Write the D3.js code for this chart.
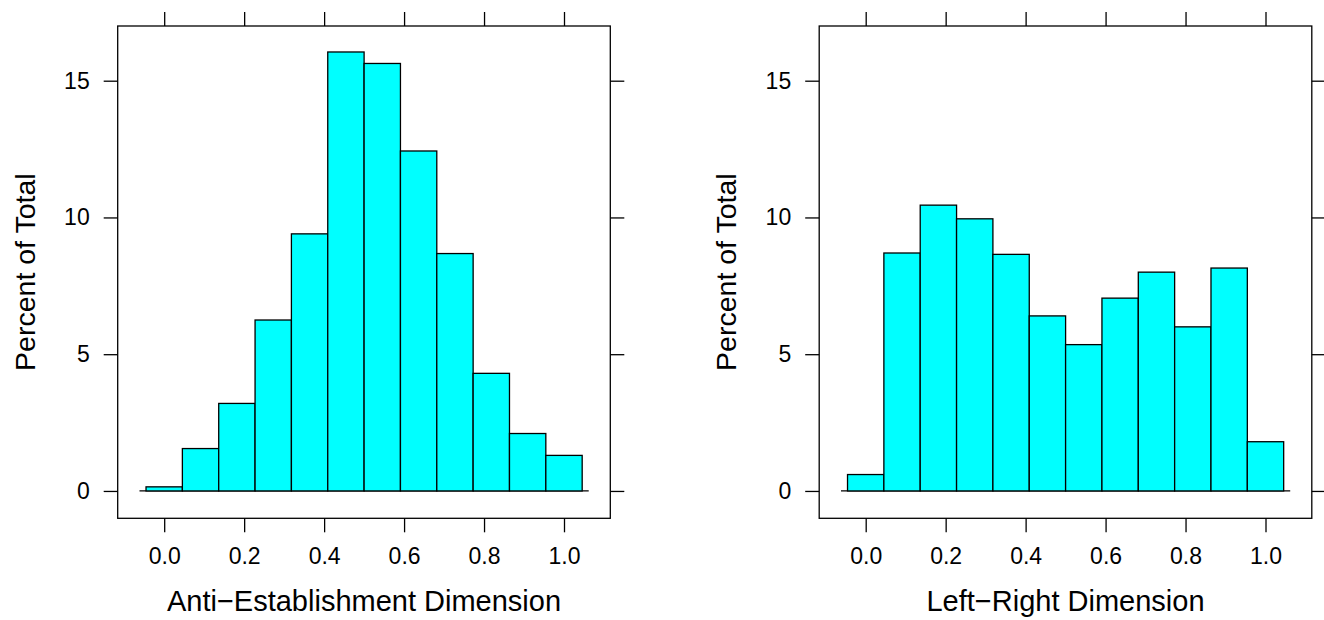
<!DOCTYPE html>
<html>
<head>
<meta charset="utf-8">
<script src="https://cdn.jsdelivr.net/npm/d3@7"></script>
<style>
  body { margin: 0; background: #fff; }
  svg { display: block; font-family: "Liberation Sans", Arial, sans-serif; }
</style>
</head>
<body>
<svg width="1324" height="620"></svg>
<script>
// bins are centred on 0, 1/11, 2/11, ... 1
var binCount = 12;
var binWidth = 1 / 11;
var antiEstablishment = [0.15, 1.55, 3.2, 6.25, 9.4, 16.05, 15.63, 12.43, 8.68, 4.3, 2.1, 1.3];
var leftRight = [0.6, 8.7, 10.45, 9.95, 8.65, 6.4, 5.35, 7.05, 8.0, 6.0, 8.15, 1.8];
var xTicks = [0, 0.2, 0.4, 0.6, 0.8, 1.0];
var yTicks = [0, 5, 10, 15];
var xTitles = ["Anti\u2212Establishment Dimension", "Left\u2212Right Dimension"];
var yTitle = "Percent of Total";

var svg = d3.select("svg");

// panel frame geometry
var panelW = 492.6, panelH = 492.3;
var panelX = [117.7, 819.2], panelY = 26;
var tickLen = 14;

var xScale = d3.scaleLinear().domain([-0.1163, 1.1158]).range([0, panelW]);
var yScale = d3.scaleLinear().domain([-1, 17]).range([panelH, 0]);

var panels = [antiEstablishment, leftRight];

panels.forEach(function(values, p) {
  var g = svg.append("g")
      .attr("transform", "translate(" + panelX[p] + "," + panelY + ")");

  var bins = values.map(function(v, i) {
    return { x0: -binWidth / 2 + i * binWidth, x1: -binWidth / 2 + (i + 1) * binWidth, v: v };
  });

  // reference line at 0
  g.append("line")
      .attr("x1", xScale(bins[0].x0 - 0.18 * binWidth))
      .attr("x2", xScale(bins[binCount - 1].x1 + 0.18 * binWidth))
      .attr("y1", yScale(0)).attr("y2", yScale(0))
      .attr("stroke", "#000").attr("stroke-width", 1.3);

  g.selectAll("rect.bar")
    .data(bins)
    .enter().append("rect")
      .attr("class", "bar")
      .attr("x", function(d) { return xScale(d.x0); })
      .attr("width", function(d) { return xScale(d.x1) - xScale(d.x0); })
      .attr("y", function(d) { return yScale(d.v); })
      .attr("height", function(d) { return yScale(0) - yScale(d.v); })
      .attr("fill", "#00ffff")
      .attr("stroke", "#000")
      .attr("stroke-width", 1.3);

  // axes: labels on left / bottom, bare ticks on top / right
  var bottom = g.append("g")
      .attr("transform", "translate(0," + panelH + ")")
      .call(d3.axisBottom(xScale).tickValues(xTicks).tickSize(tickLen).tickPadding(15)
            .tickFormat(d3.format(".1f")));
  var top = g.append("g")
      .call(d3.axisTop(xScale).tickValues(xTicks).tickSize(tickLen).tickFormat(""));
  var left = g.append("g")
      .call(d3.axisLeft(yScale).tickValues(yTicks).tickSize(tickLen).tickPadding(14));
  var right = g.append("g")
      .attr("transform", "translate(" + panelW + ",0)")
      .call(d3.axisRight(yScale).tickValues(yTicks).tickSize(tickLen).tickFormat(""));

  [bottom, top, left, right].forEach(function(a) {
    a.select(".domain").remove();
    a.selectAll("line").attr("stroke", "#000").attr("stroke-width", 1.3);
    a.selectAll("text").attr("fill", "#000").style("font-size", "23px")
      .style("font-family", "'Liberation Sans', Arial, sans-serif");
  });

  // frame
  g.append("rect")
      .attr("width", panelW).attr("height", panelH)
      .attr("fill", "none").attr("stroke", "#000").attr("stroke-width", 1.3);

  // titles
  g.append("text")
      .attr("x", panelW / 2).attr("y", panelH + 93)
      .attr("text-anchor", "middle")
      .style("font-size", "29px")
      .text(xTitles[p]);

  g.append("text")
      .attr("transform", "translate(-83," + (panelH / 2) + ") rotate(-90)")
      .attr("text-anchor", "middle")
      .style("font-size", "28.5px")
      .text(yTitle);
});
</script>
</body>
</html>
